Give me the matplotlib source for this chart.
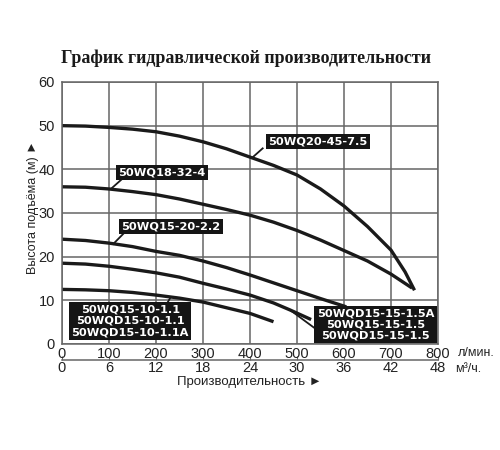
import matplotlib.pyplot as plt

plt.rcParams['font.family'] = ['Liberation Sans', 'DejaVu Sans']

# расход, л/мин, и напор, м
q1 = [0, 50, 100, 150, 200, 250, 300, 350, 400, 450, 500, 550, 600, 650, 700, 730, 750]
h1 = [50, 49.9, 49.6, 49.2, 48.6, 47.6, 46.3, 44.7, 42.8, 40.9, 38.7, 35.5, 31.6, 26.9, 21.5, 16.5, 12.3]

q2 = [0, 50, 100, 150, 200, 250, 300, 350, 400, 450, 500, 550, 600, 650, 700, 745]
h2 = [36, 35.9, 35.5, 34.9, 34.2, 33.2, 32.0, 30.8, 29.5, 27.9, 26.0, 23.8, 21.4, 19.0, 16.0, 12.8]

q3 = [0, 50, 100, 150, 200, 250, 300, 350, 400, 450, 500, 550, 605]
h3 = [24, 23.7, 23.1, 22.3, 21.2, 20.3, 19.0, 17.5, 15.8, 14.0, 12.2, 10.4, 8.5]

q4 = [0, 50, 100, 150, 200, 250, 300, 350, 400, 450, 485, 530]
h4 = [18.5, 18.3, 17.8, 17.1, 16.3, 15.3, 13.9, 12.6, 11.2, 9.4, 7.8, 5.6]

q5 = [0, 50, 100, 150, 200, 250, 300, 350, 400, 450]
h5 = [12.5, 12.4, 12.2, 11.8, 11.2, 10.5, 9.6, 8.3, 7.0, 5.1]

lpm_ticks = [0, 100, 200, 300, 400, 500, 600, 700, 800]
m3h_ticks = [0, 6, 12, 18, 24, 30, 36, 42, 48]
h_ticks = [0, 10, 20, 30, 40, 50, 60]

fig = plt.figure(figsize=(5, 4.5), dpi=100)
ax = fig.add_axes([0.124, 0.2356, 0.752, 0.5822])

grid_c = '#666666'
ax.set_xlim(0, 800)
ax.set_ylim(0, 60)
ax.set_xticks(lpm_ticks)
ax.set_yticks(h_ticks)
ax.grid(True, color=grid_c, lw=1.1)
ax.set_axisbelow(True)
for s in ax.spines.values():
    s.set_color(grid_c)
    s.set_linewidth(1.1)
ax.tick_params(axis='both', length=0, labelsize=10.5, colors='#222222')
ax.tick_params(axis='x', pad=2)
ax.tick_params(axis='y', pad=5)

curve_c = '#1a1a1a'
for q, h in [(q1, h1), (q2, h2), (q3, h3), (q4, h4), (q5, h5)]:
    ax.plot(q, h, color=curve_c, lw=2.4, solid_capstyle='butt',
            solid_joinstyle='round', clip_on=False)

# выноски
leaders = [([427, 404], [44.8, 42.6]),
           ([128, 106], [37.8, 35.7]),
           ([132, 109], [25.4, 22.9]),
           ([223, 230], [9.2, 10.5]),
           ([485, 543], [7.8, 3.2])]
for lx, ly in leaders:
    ax.plot(lx, ly, color=curve_c, lw=1.3)

box = dict(boxstyle='square,pad=0.22', fc='#151515', ec='none')
lab_kw = dict(color='white', fontsize=8.2, fontweight='bold', family='DejaVu Sans',
              ha='center', va='center', bbox=box, linespacing=1.15)
ax.text(545, 46.4, '50WQ20-45-7.5', **lab_kw)
ax.text(213, 39.2, '50WQ18-32-4', **lab_kw)
ax.text(232, 26.8, '50WQ15-20-2.2', **lab_kw)
ax.text(145, 5.3, '50WQ15-10-1.1\n50WQD15-10-1.1\n50WQD15-10-1.1A', **lab_kw)
ax.text(667, 4.5, '50WQD15-15-1.5A\n50WQ15-15-1.5\n50WQD15-15-1.5', **lab_kw)

sec = ax.secondary_xaxis(-0.061, functions=(lambda x: x * 0.06, lambda x: x / 0.06))
sec.set_xticks(m3h_ticks)
sec.spines['bottom'].set_color(grid_c)
sec.spines['bottom'].set_linewidth(1.1)
sec.tick_params(direction='in', length=3, color=grid_c, labelsize=10.5,
                labelcolor='#222222', pad=1)

fig.text(458 / 500, 1 - 353 / 450, 'л/мин.', fontsize=9, va='center', color='#222222')
fig.text(455 / 500, 1 - 369 / 450, 'м³/ч.', fontsize=9, va='center', color='#222222')
fig.text(249 / 500, 1 - 382 / 450, 'Производительность ►', fontsize=9.5,
         ha='center', va='center', color='#222222')
fig.text(33 / 500, 1 - 207 / 450, 'Высота подъёма (м) ►', fontsize=9,
         rotation=90, ha='center', va='center', color='#222222')
fig.text(246 / 500, 1 - 58 / 450, 'График гидравлической производительности',
         fontsize=13, fontweight='bold', family='Liberation Serif',
         ha='center', va='center', color='#1a1a1a')

fig.savefig('out.png', dpi=100, facecolor='white')
